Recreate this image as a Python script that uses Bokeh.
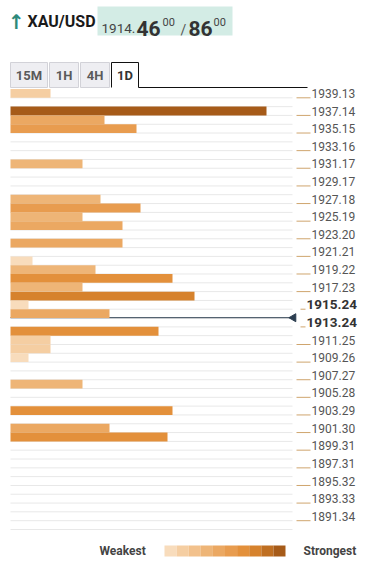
import math
from bokeh.plotting import figure
from bokeh.models import Range1d, ColumnDataSource
from bokeh.transform import linear_cmap
from bokeh.core.properties import value
from bokeh.embed import file_html
from bokeh.resources import INLINE

# ---------------- data ----------------
symbol = "XAU/USD"
bid_main = "1914."
bid_big = "46"
bid_small = "00"
ask_big = "86"
ask_small = "00"
tabs = ["15M", "1H", "4H", "1D"]
active_tab = "1D"

row_levels = [1939.13, 1938.13, 1937.14, 1936.14, 1935.15, 1934.15, 1933.16, 1932.16,
              1931.17, 1930.17, 1929.17, 1928.18, 1927.18, 1926.18, 1925.19, 1924.19,
              1923.20, 1922.20, 1921.21, 1920.21, 1919.22, 1918.22, 1917.23, 1916.23,
              1915.24, 1914.24, 1913.24, 1912.25, 1911.25, 1910.26, 1909.26, 1908.27,
              1907.27, 1906.28, 1905.28, 1904.29, 1903.29, 1902.29, 1901.30, 1900.30,
              1899.31, 1898.31, 1897.31, 1896.32, 1895.32, 1894.33, 1893.33, 1892.34,
              1891.34]

bar_levels = [1939.13, 1937.14, 1936.14, 1935.15, 1931.17, 1927.18, 1926.18, 1925.19,
              1924.19, 1922.20, 1920.21, 1919.22, 1918.22, 1917.23, 1916.23, 1915.24,
              1914.24, 1912.25, 1911.25, 1910.26, 1909.26, 1906.28, 1903.29, 1901.30,
              1900.30]
bar_strength = [40, 256, 94, 126, 72, 90, 130, 72,
                112, 112, 22, 85, 162, 72, 184, 18,
                99, 148, 40, 40, 18, 72, 162, 99,
                157]

tick_labels = ["1939.13", "1937.14", "1935.15", "1933.16", "1931.17", "1929.17",
               "1927.18", "1925.19", "1923.20", "1921.21", "1919.22", "1917.23",
               "1915.24", "1913.24", "1911.25", "1909.26", "1907.27", "1905.28",
               "1903.29", "1901.30", "1899.31", "1897.31", "1895.32", "1893.33",
               "1891.34"]
bold_labels = ["1915.24", "1913.24"]
price_level = 1913.78

palette = ["#f8dcbc", "#f5cea2", "#f2c18c", "#eeb577", "#eba862",
           "#e89c4f", "#e3903b", "#d6822d", "#bf6f22", "#a65b19"]
strength_max = 235
legend_low = "Weakest"
legend_high = "Strongest"

# ---------------- figure ----------------
W, H = 358, 558
FONT = value("Roboto")
p = figure(width=W, height=H, x_range=Range1d(0, W), y_range=Range1d(H, 0),
           output_backend="svg", toolbar_location=None,
           x_axis_location=None, y_axis_location=None, min_border=0,
           outline_line_color=None, background_fill_color="white",
           border_fill_color="white")
p.grid.visible = False
p.extra_x_ranges = {"str": Range1d(-10, 348)}
p.extra_y_ranges = {"price": Range1d(1886.569, 1949.629)}

step = (row_levels[0] - row_levels[-1]) / (len(row_levels) - 1)

# row separators
bounds = [lv - step / 2 for lv in row_levels] + [row_levels[-1] - 1.5 * step]
p.segment(x0=0, x1=282, y0=bounds, y1=bounds, line_color="#e8e8e8", line_width=1,
          x_range_name="str", y_range_name="price")

# current price line
p.segment(x0=[0], x1=[282], y0=[price_level], y1=[price_level], line_color="#2c3e50",
          line_width=1, x_range_name="str", y_range_name="price")

# bars
src = ColumnDataSource(dict(lv=bar_levels, s=bar_strength))
p.hbar(y="lv", left=0, right="s", height=step, source=src,
       fill_color=linear_cmap("s", palette, 0, strength_max), line_color=None,
       x_range_name="str", y_range_name="price")

p.scatter(x=[283], y=[price_level], marker="triangle", size=8, angle=math.pi / 2,
          color="#2c3e50", x_range_name="str", y_range_name="price")

# right-hand labels and ticks
norm = [t for t in tick_labels if t not in bold_labels]
bold = [t for t in tick_labels if t in bold_labels]
nv = [float(t) for t in norm]
bv = [float(t) for t in bold]
p.segment(x0=296, x1=310, y0=[v - step / 2 for v in nv], y1=[v - step / 2 for v in nv],
          line_color="#cfa56e", line_width=1, y_range_name="price")
p.segment(x0=300, x1=305, y0=[v - step / 2 for v in bv], y1=[v - step / 2 for v in bv],
          line_color="#cfa56e", line_width=1, y_range_name="price")
p.text(x=311, y=nv, text=norm, text_font=FONT, text_font_size="12px",
       text_color="#555555", text_align="left", text_baseline="middle",
       y_range_name="price")
p.text(x=306, y=bv, text=bold, text_font=FONT, text_font_size="13.5px",
       text_font_style="bold", text_color="#333333", text_align="left",
       text_baseline="middle", y_range_name="price")

# ---------------- header ----------------
p.text(x=[16], y=[21], text=["\u2191"], text_font=value("DejaVu Sans"),
       text_font_size="20px", text_font_style="bold", text_color="#2e8a7b",
       text_align="center", text_baseline="middle")
p.text(x=[27], y=[21], text=[symbol], text_font=FONT, text_font_size="16px",
       text_font_style="bold", text_color="#1a1a1a", text_align="left",
       text_baseline="middle")
p.quad(left=[97], right=[232], top=[6], bottom=[35], fill_color="#d3ece5",
       line_color=None)
p.text(x=[101], y=[28], text=[bid_main], text_font=FONT, text_font_size="13.5px",
       text_color="#444444", text_baseline="alphabetic")
p.text(x=[136, 188], y=[28, 28], text=[bid_big, ask_big], text_font=FONT,
       text_font_size="21px", text_font_style="bold", text_color="#333333",
       text_baseline="alphabetic")
p.text(x=[162, 213], y=[21, 21], text=[bid_small, ask_small], text_font=FONT,
       text_font_size="11px", text_color="#444444", text_baseline="alphabetic")
p.text(x=[180], y=[29], text=["/"], text_font=FONT, text_font_size="14px",
       text_color="#555555", text_baseline="alphabetic")

# tabs
tab_l = [10, 49, 80, 111]
tab_r = [47, 78, 109, 138]
for t, l, r in zip(tabs, tab_l, tab_r):
    if t == active_tab:
        p.quad(left=[l], right=[r], top=[62], bottom=[87], fill_color="white",
               line_color=None)
        p.line(x=[l, l, r, r], y=[87, 62, 62, 87], line_color="#111111", line_width=1)
        col = "#333333"
    else:
        p.quad(left=[l], right=[r], top=[62], bottom=[87], fill_color="#eeeef2",
               line_color="#d2d2d8", line_width=1)
        col = "#5a5a5a"
    p.text(x=[(l + r) / 2], y=[75], text=[t], text_font=FONT, text_font_size="13px",
           text_font_style="bold", text_color=col, text_align="center",
           text_baseline="middle")
p.line(x=[138, 307], y=[87, 87], line_color="#111111", line_width=1)

# ---------------- legend ----------------
n = len(palette)
gw = (285 - 164) / n
p.quad(left=[164 + i * gw for i in range(n)], right=[164 + (i + 1) * gw for i in range(n)],
       top=545, bottom=556, fill_color=palette, line_color=None)
p.text(x=[99, 303], y=[550, 550], text=[legend_low, legend_high], text_font=FONT,
       text_font_size="12px", text_font_style="bold", text_color="#444444",
       text_align="left", text_baseline="middle")

open("out.html", "w").write(file_html(p, INLINE))
